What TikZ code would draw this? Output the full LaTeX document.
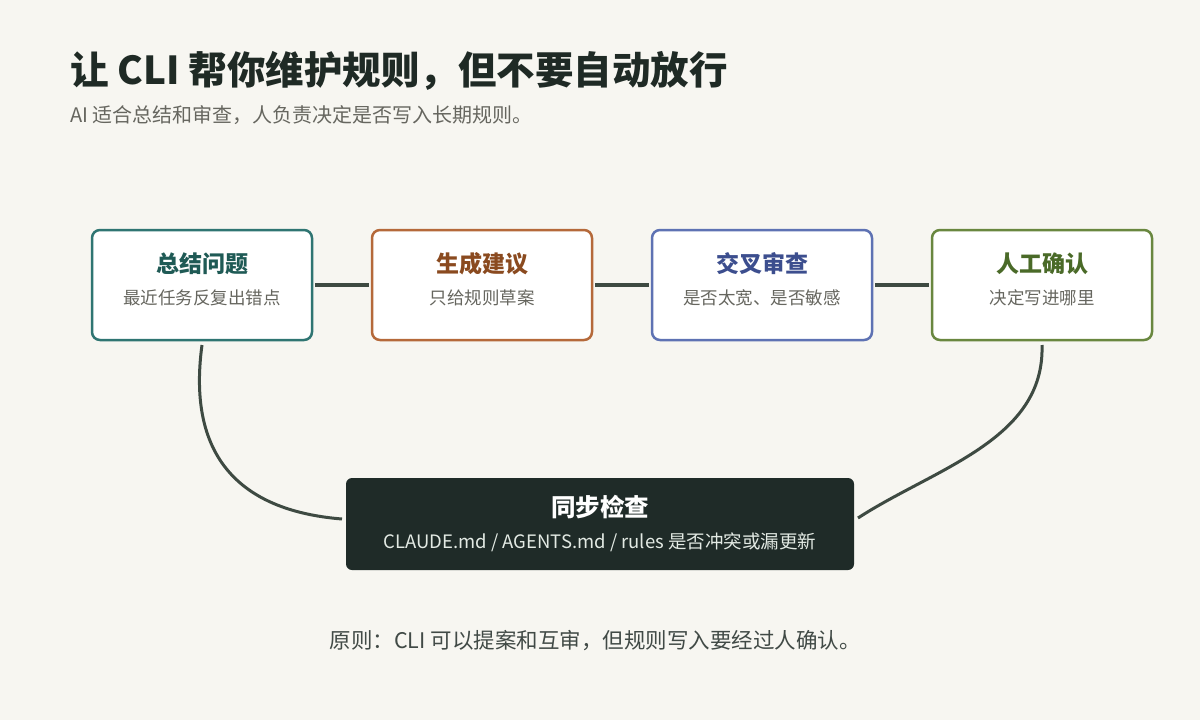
\documentclass[tikz,border=0pt]{standalone}
\usepackage{fontspec}
\setmainfont{Noto Sans CJK SC}
\usetikzlibrary{positioning}
\definecolor{bg}{HTML}{F7F6F1}
\definecolor{ink}{HTML}{1F2A25}
\definecolor{sub}{HTML}{66665F}
\definecolor{conn}{HTML}{3E4A42}
\definecolor{tealB}{HTML}{2F7572}
\definecolor{tealT}{HTML}{1F5A55}
\definecolor{orB}{HTML}{B5693A}
\definecolor{orT}{HTML}{8A4A1F}
\definecolor{blB}{HTML}{5E72B3}
\definecolor{blT}{HTML}{3C4E8E}
\definecolor{grB}{HTML}{69873F}
\definecolor{grT}{HTML}{4A6A28}
\definecolor{dark}{HTML}{1F2B28}
\definecolor{darksub}{HTML}{E3EAE4}
\tikzset{
  card/.style={draw=#1, line width=2.5pt, fill=white, rounded corners=8pt, minimum width=220pt, minimum height=110pt, inner sep=0pt, outer sep=3pt},
  cardtitle/.style={font=\fontsize{23}{26}\selectfont\bfseries, text=#1},
  cardsub/.style={font=\fontsize{17.5}{20}\selectfont, text=sub},
  link/.style={draw=conn, line width=3.5pt},
  curve/.style={draw=conn, line width=3pt},
}
\begin{document}
\begin{tikzpicture}[x=1pt,y=-1pt]
\fill[bg] (0,0) rectangle (1200,720);
\useasboundingbox (0,0) rectangle (1200,720);

\node[anchor=base west, text=ink, font=\fontsize{38.5}{42}\selectfont\bfseries, inner sep=0pt] (title) at (70,84) {让 CLI 帮你维护规则，但不要自动放行};
\node[anchor=base west, text=sub, font=\fontsize{20}{23}\selectfont, inner sep=0pt] (subtitle) at (70,122) {AI 适合总结和审查，人负责决定是否写入长期规则。};

\node[card=tealB] (b1) at (202,285) {};
\node[card=orB] (b2) at (482,285) {};
\node[card=blB] (b3) at (762,285) {};
\node[card=grB] (b4) at (1042,285) {};

\node[cardtitle=tealT] (t1) at (202,264) {总结问题};
\node[cardsub] (s1) at (202,298) {最近任务反复出错点};
\node[cardtitle=orT] (t2) at (482,264) {生成建议};
\node[cardsub] (s2) at (482,298) {只给规则草案};
\node[cardtitle=blT] (t3) at (762,264) {交叉审查};
\node[cardsub] (s3) at (762,298) {是否太宽、是否敏感};
\node[cardtitle=grT] (t4) at (1042,264) {人工确认};
\node[cardsub] (s4) at (1042,298) {决定写进哪里};

\draw[link] (b1) -- (b2);
\draw[link] (b2) -- (b3);
\draw[link] (b3) -- (b4);

\node[fill=dark, rounded corners=6pt, minimum width=508pt, minimum height=92pt, inner sep=0pt, outer sep=4pt] (sync) at (600,524) {};
\node[text=white, font=\fontsize{24.5}{28}\selectfont\bfseries] (synct) at (600,507) {同步检查};
\node[text=darksub, font=\fontsize{18.5}{21}\selectfont] (syncs) at (600,542) {CLAUDE.md / AGENTS.md / rules 是否冲突或漏更新};

\coordinate (l1) at (202,345);
\coordinate (r1) at (1042,345);
\draw[curve] (l1) .. controls (185,470) and (255,512) .. (sync.west |- 0,519);
\draw[curve] (r1) .. controls (1045,440) and (935,468) .. (sync.east |- 0,518);

\node[text=ink!85, font=\fontsize{21.5}{24}\selectfont] (note) at (595,641) {原则：CLI 可以提案和互审，但规则写入要经过人确认。};
\end{tikzpicture}
\end{document}
